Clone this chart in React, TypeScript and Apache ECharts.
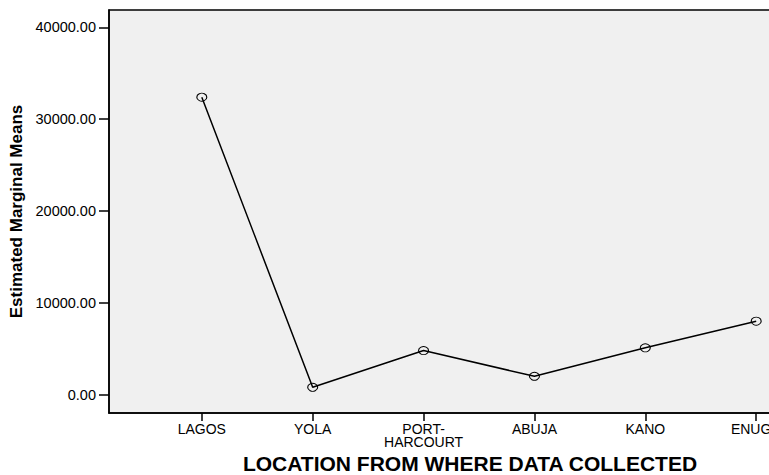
import React, { useEffect, useRef } from "react";
import * as echarts from "echarts";

const categories = ["LAGOS", "YOLA", "PORT-HARCOURT", "ABUJA", "KANO", "ENUGU"];
const meansValues = [32400, 800, 4800, 2000, 5100, 8000];
const yTickValues = [0, 10000, 20000, 30000, 40000];
const xTickValues = [0, 1, 2, 3, 4, 5];
const yTitle = "Estimated Marginal Means";
const xTitle = "LOCATION FROM WHERE DATA COLLECTED";

const FONT = "'Liberation Sans', Arial, Helvetica, sans-serif";

export default function App() {
  const ref = useRef<HTMLDivElement>(null);
  useEffect(() => {
    if (!ref.current) return;
    const chart = echarts.init(ref.current, undefined, { renderer: "svg" });
    chart.setOption({
      animation: false,
      backgroundColor: "#ffffff",
      grid: {
        left: 109,
        top: 10,
        right: 11,
        bottom: 62,
        outerBoundsMode: "none",
        containLabel: false,
        show: true,
        backgroundColor: "#f0f0f0",
        borderColor: "#000",
        borderWidth: 1.5,
      },
      xAxis: {
        type: "value",
        min: -0.837,
        max: 5.837,
        name: xTitle,
        nameLocation: "middle",
        nameGap: 33,
        nameTextStyle: {
          fontFamily: FONT,
          fontSize: 21,
          fontWeight: "bold",
          color: "#000",
          padding: [0, 18, 0, 0],
        },
        axisLine: { show: true, onZero: false, lineStyle: { color: "#000", width: 1.5 } },
        axisTick: { show: true, length: 8, customValues: xTickValues, lineStyle: { color: "#000", width: 1.5 } },
        axisLabel: {
          customValues: xTickValues,
          margin: 9,
          fontFamily: FONT,
          fontSize: 14,
          lineHeight: 13,
          color: "#000",
          formatter: (v: number) => {
            const c = categories[Math.round(v)] ?? "";
            return c.replace("-", "-\n");
          },
        },
        splitLine: { show: false },
      },
      yAxis: {
        type: "value",
        min: -2000,
        max: 41900,
        name: yTitle,
        nameLocation: "middle",
        nameGap: 80,
        nameTextStyle: { fontFamily: FONT, fontSize: 17, fontWeight: "bold", color: "#000" },
        axisLine: { show: true, onZero: false, lineStyle: { color: "#000", width: 1.5 } },
        axisTick: { show: true, length: 10, customValues: yTickValues, lineStyle: { color: "#000", width: 1.5 } },
        axisLabel: {
          customValues: yTickValues,
          margin: 13,
          fontFamily: FONT,
          fontSize: 14.5,
          color: "#000",
          formatter: (v: number) => v.toFixed(2),
        },
        splitLine: { show: false },
      },
      series: [
        {
          type: "line",
          data: meansValues.map((v, i) => [i, v]),
          symbol: "circle",
          symbolSize: [10, 8],
          lineStyle: { color: "#000", width: 1.5 },
          itemStyle: { color: "rgba(0,0,0,0)", borderColor: "#000", borderWidth: 1 },
          z: 3,
        },
      ],
    });
    return () => chart.dispose();
  }, []);
  return (
    <div style={{ position: "absolute", left: 0, top: 0, width: 769, height: 475, overflow: "hidden" }}>
      <div ref={ref} style={{ width: 860, height: 475 }} />
    </div>
  );
}
